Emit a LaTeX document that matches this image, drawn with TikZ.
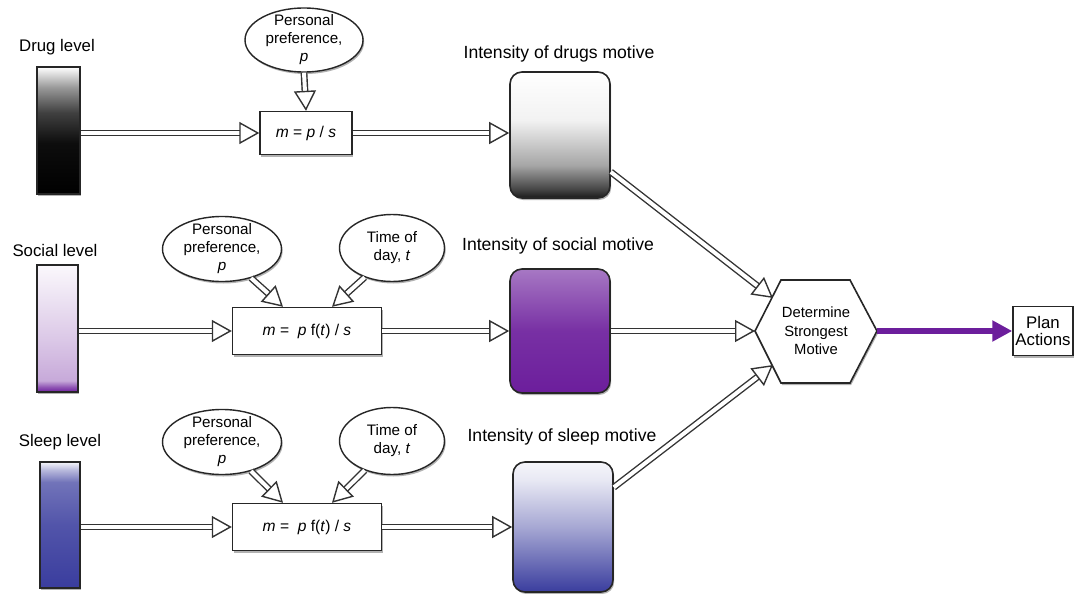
\documentclass[tikz,border=0pt]{standalone}
\usepackage{fontspec}
\setmainfont{Liberation Sans}
\usetikzlibrary{arrows.meta,shapes.geometric,shadows,calc}

\definecolor{purp}{HTML}{6C1E9C}
\definecolor{blu}{HTML}{3A3D9E}

\pgfdeclareverticalshading{drugbar}{100bp}{color(0bp)=(black); color(25bp)=(black); color(45bp)=(black!95); color(57bp)=(black!75); color(67bp)=(black!40); color(72bp)=(black!15); color(75bp)=(white); color(100bp)=(white)}
\pgfdeclareverticalshading{drugbox}{100bp}{color(0bp)=(black!90); color(25bp)=(black!90); color(28bp)=(black!75); color(38bp)=(black!35); color(56bp)=(black!5); color(75bp)=(white); color(100bp)=(white)}
\pgfdeclareverticalshading{socialbar}{100bp}{color(0bp)=(purp); color(25bp)=(purp); color(27bp)=(purp!75); color(29.5bp)=(purp!38); color(45bp)=(purp!25); color(75bp)=(purp!3); color(100bp)=(white)}
\pgfdeclareverticalshading{socialbox}{100bp}{color(0bp)=(purp); color(25bp)=(purp); color(50bp)=(purp!92); color(75bp)=(purp!60); color(100bp)=(purp!60)}
\pgfdeclareverticalshading{sleepbar}{100bp}{color(0bp)=(blu); color(25bp)=(blu); color(50bp)=(blu!88); color(67bp)=(blu!72); color(72bp)=(blu!35); color(75bp)=(blu!5); color(100bp)=(white)}
\pgfdeclareverticalshading{sleepbox}{100bp}{color(0bp)=(blu); color(25bp)=(blu); color(50bp)=(blu!45); color(68bp)=(blu!12); color(75bp)=(blu!5); color(100bp)=(white)}

\tikzset{
  shad/.style={drop shadow={shadow xshift=0.6pt, shadow yshift=-1pt, opacity=0.3, fill=black}},
  lvl/.style={font=\fontsize{8.4}{10}\selectfont, inner sep=0pt},
  ilbl/.style={font=\fontsize{8.8}{10}\selectfont, inner sep=0pt},
  bar/.style={draw=black!85, line width=0.8pt, inner sep=0pt, shad},
  mbox/.style={draw=black!85, line width=0.8pt, inner sep=0pt, rounded corners=6pt, minimum width=50pt, shad},
  ell/.style={ellipse, draw=black!85, line width=0.7pt, fill=white, inner xsep=0pt, inner ysep=-3pt, align=center,
    font=\fontsize{7.6}{9}\selectfont, shad},
  fbox/.style={draw=black!85, line width=0.7pt, fill=white, inner sep=0pt, font=\fontsize{7.8}{9}\selectfont, shad},
  hol/.style={double=white, double distance=2pt, line width=0.7pt, draw=black!80,
    -{Triangle[open, fill=white, length=10pt, width=11pt, line width=0.7pt]}},
  parr/.style={draw=purp, line width=2.6pt, -{Triangle[length=10pt, width=10pt]}},
}

\begin{document}
\begin{tikzpicture}[x=0.5pt, y=-0.5pt]
\useasboundingbox (0,0) rectangle (1077,594);

% ---------- drug row ----------
\node[lvl] (drugL) at (57,47) {Drug level};
\node[bar, shading=drugbar, minimum width=21.5pt, minimum height=63.5pt] (drugbar) at (58.5,130.5) {};
\node[ell, minimum width=59pt, minimum height=32pt] (pp1) at (304,40) {Personal\\preference,\\\textit{p}};
\node[fbox, minimum width=46pt, minimum height=21.5pt] (f1) at (306,133) {\textit{m} = \textit{p} / \textit{s}};
\node[ilbl] (drugsLbl) at (559,54) {Intensity of drugs motive};
\node[mbox, shading=drugbox, minimum height=63pt] (drugbox) at (560,135) {};

% ---------- social row ----------
\node[lvl] (socL) at (55,250) {Social level};
\node[bar, shading=socialbar, minimum width=20.5pt, minimum height=63.5pt] (socbar) at (57.5,328.5) {};
\node[ell, minimum width=59.5pt, minimum height=32.5pt] (pp2) at (222,249) {Personal\\preference,\\\textit{p}};
\node[ell, minimum width=52.5pt, minimum height=33.5pt] (td2) at (392,248) {Time of\\day, \textit{t}};
\node[fbox, minimum width=74.5pt, minimum height=23.5pt] (f2) at (307,331) {\textit{m} =\ \ \textit{p} f(\textit{t}) / \textit{s}};
\node[ilbl] (socLbl) at (558,246) {Intensity of social motive};
\node[mbox, shading=socialbox, minimum height=62pt] (socbox) at (560,331) {};

% ---------- sleep row ----------
\node[lvl] (slpL) at (60,442) {Sleep level};
\node[bar, shading=sleepbar, minimum width=20pt, minimum height=63pt] (slpbar) at (60,525) {};
\node[ell, minimum width=59.5pt, minimum height=32.5pt] (pp3) at (222,442) {Personal\\preference,\\\textit{p}};
\node[ell, minimum width=52.5pt, minimum height=33.5pt] (td3) at (392,441) {Time of\\day, \textit{t}};
\node[fbox, minimum width=74.5pt, minimum height=23.5pt] (f3) at (307,527) {\textit{m} =\ \ \textit{p} f(\textit{t}) / \textit{s}};
\node[ilbl] (slpLbl) at (562,437) {Intensity of sleep motive};
\node[mbox, shading=sleepbox, minimum height=65pt] (slpbox) at (563,527) {};

% ---------- hexagon and plan ----------
\draw[draw=black!85, line width=0.8pt, fill=white, shad]
  (755,331) -- (781,280) -- (850,280) -- (877,331) -- (850,383) -- (781,383) -- cycle;
\node[align=center, font=\fontsize{7.4}{9.2}\selectfont, inner sep=0pt] (hex) at (816,331) {Determine\\Strongest\\Motive};
\coordinate (hexUL) at (773,298);
\coordinate (hexL) at (755,331);
\coordinate (hexLL) at (773,365);
\coordinate (hexR) at (877,331);
\node[fbox, minimum width=30pt, minimum height=24.5pt, align=center, font=\fontsize{8.4}{8.6}\selectfont] (plan) at (1043,331) {Plan\\Actions};

% ---------- connectors ----------
\draw[hol] (drugbar.east |- f1.west) -- (f1.west);
\draw[hol] (pp1.south) -- (f1.north);
\draw[hol] (f1.east) -- (f1.east -| drugbox.west);

\draw[hol] (socbar.east |- f2.west) -- (f2.west);
\draw[hol] (pp2.-45) -- ([xshift=-12pt]f2.north);
\draw[hol] (td2.-133) -- ([xshift=12.5pt]f2.north);
\draw[hol] (f2.east) -- (f2.east -| socbox.west);

\draw[hol] (slpbar.east |- f3.west) -- (f3.west);
\draw[hol] (pp3.-45) -- ([xshift=-12pt]f3.north);
\draw[hol] (td3.-133) -- ([xshift=12.5pt]f3.north);
\draw[hol] (f3.east) -- (f3.east -| slpbox.west);

\draw[hol] (drugbox.-36) -- (hexUL);
\draw[hol] (socbox.east) -- (hexL);
\draw[hol] (slpbox.38) -- (hexLL);

\draw[parr] (hexR) -- (plan.west);
\end{tikzpicture}
\end{document}
